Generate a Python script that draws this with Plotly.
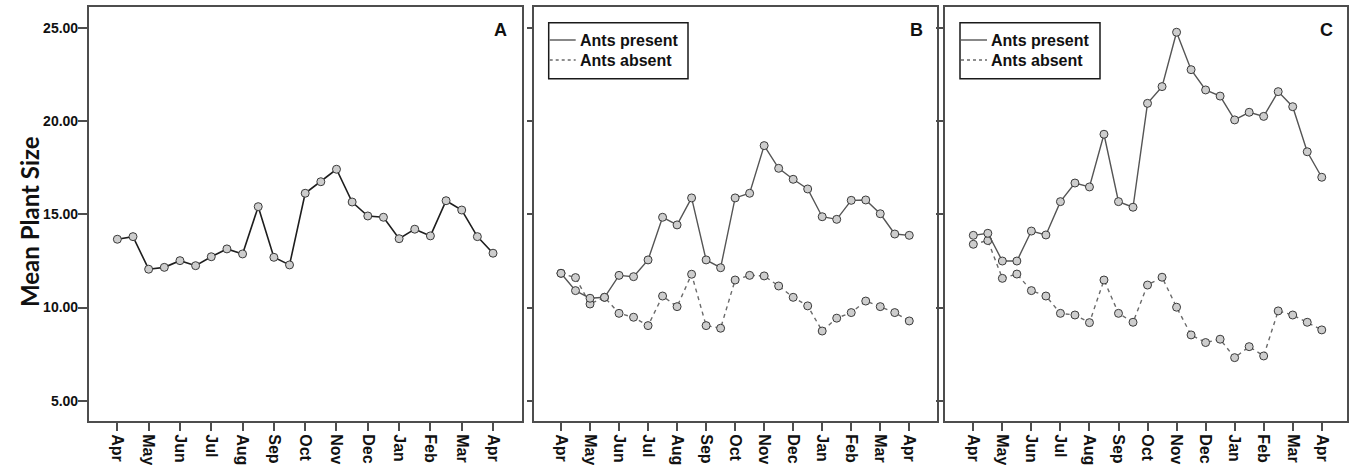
import plotly.graph_objects as go

W, H = 1350, 465

# ---------------- data ----------------
months = ["Apr", "May", "Jun", "Jul", "Aug", "Sep", "Oct", "Nov", "Dec", "Jan", "Feb", "Mar", "Apr"]
# 25 sampling occasions (twice a month), labelled every second one
samples = list(range(25))

a_mean = [13.67, 13.81, 12.06, 12.16, 12.52, 12.25, 12.73, 13.15, 12.88, 15.42, 12.70, 12.29, 16.14,
          16.76, 17.43, 15.67, 14.92, 14.85, 13.70, 14.21, 13.85, 15.74, 15.24, 13.81, 12.92]

b_present = [11.84, 10.91, 10.50, 10.55, 11.73, 11.66, 12.56, 14.85, 14.44, 15.89, 12.56, 12.14, 15.89,
             16.14, 18.70, 17.48, 16.89, 16.37, 14.88, 14.74, 15.76, 15.78, 15.04, 13.95, 13.88]
b_absent = [11.84, 11.61, 10.19, 10.55, 9.69, 9.48, 9.03, 10.62, 10.05, 11.79, 9.03, 8.89, 11.48,
            11.73, 11.70, 11.16, 10.55, 10.09, 8.74, 9.43, 9.73, 10.35, 10.05, 9.73, 9.28]

c_present = [13.88, 13.99, 12.50, 12.50, 14.11, 13.90, 15.69, 16.69, 16.48, 19.31, 15.69, 15.39, 20.97,
             21.87, 24.79, 22.78, 21.69, 21.36, 20.08, 20.49, 20.27, 21.60, 20.79, 18.37, 17.00]
c_absent = [13.40, 13.60, 11.57, 11.80, 10.91, 10.62, 9.69, 9.60, 9.19, 11.48, 9.69, 9.21, 11.21,
            11.63, 10.02, 8.53, 8.12, 8.30, 7.31, 7.90, 7.40, 9.82, 9.60, 9.21, 8.80]

y_ticks = [5, 10, 15, 20, 25]
y_tick_text = ["5.00", "10.00", "15.00", "20.00", "25.00"]
panel_labels = ["A", "B", "C"]
legend_names = ["Ants present", "Ants absent"]

# ---------------- layout geometry (pixels) ----------------
def px(x):
    return x / W

def py(y):
    return 1 - y / H

panels = [(88.7, 522.3), (534.0, 936.7), (945.3, 1347.3)]
xranges = [[-1.83, 25.87], [-1.86, 25.89], [-1.93, 25.76]]
ytop, ybot = 7.3, 421.3
yrange = [3.89, 26.13]
ticklens_y = [9, 5, 8]

FONT = "Arial, 'Liberation Sans', sans-serif"
frame_col = "#4d4d4d"
present_col = "#555555"
absent_col = "#6a6a6a"
marker_style = dict(symbol="circle", size=8, color="#cdcdcd", line=dict(color="#3a3a3a", width=1))

fig = go.Figure()

# Panel A
fig.add_trace(go.Scatter(x=samples, y=a_mean, mode="lines+markers", xaxis="x", yaxis="y",
                         line=dict(color="#1e1e1e", width=1.6), marker=marker_style, showlegend=False))

# Panels B and C
for i, (pres, absn) in enumerate([(b_present, b_absent), (c_present, c_absent)]):
    ax = str(i + 2)
    fig.add_trace(go.Scatter(x=samples, y=absn, mode="lines+markers", xaxis="x" + ax, yaxis="y" + ax,
                             name=legend_names[1],
                             line=dict(color=absent_col, width=1.4, dash="4px,4px"), marker=marker_style,
                             showlegend=False))
    fig.add_trace(go.Scatter(x=samples, y=pres, mode="lines+markers", xaxis="x" + ax, yaxis="y" + ax,
                             name=legend_names[0],
                             line=dict(color=present_col, width=1.4), marker=marker_style, showlegend=False))

layout = dict(
    width=W, height=H,
    margin=dict(l=0, r=0, t=0, b=0),
    paper_bgcolor="white", plot_bgcolor="white",
    font=dict(family=FONT, color="#111111"),
    showlegend=False,
)

for i, ((x0, x1), xr) in enumerate(zip(panels, xranges)):
    sfx = "" if i == 0 else str(i + 1)
    layout["xaxis" + sfx] = dict(
        domain=[px(x0), px(x1)], range=xr, anchor="y" + sfx,
        tickmode="array", tickvals=samples[::2], ticktext=months,
        tickangle=90, ticks="outside", ticklen=8, tickwidth=1.5, tickcolor=frame_col,
        tickfont=dict(family=FONT, size=16, color="#111111", weight="bold"),
        showline=True, linecolor=frame_col, linewidth=1.5, mirror=True,
        showgrid=False, zeroline=False, fixedrange=True,
    )
    layout["yaxis" + sfx] = dict(
        domain=[py(ybot), py(ytop)], range=yrange, anchor="x" + sfx,
        tickmode="array", tickvals=y_ticks, ticktext=y_tick_text,
        showticklabels=(i == 0), ticklabelstandoff=-3,
        ticks="outside", ticklen=ticklens_y[i], tickwidth=1.5, tickcolor=frame_col,
        tickfont=dict(family=FONT, size=14, color="#111111", weight="bold"),
        showline=True, linecolor=frame_col, linewidth=1.5, mirror=True,
        showgrid=False, zeroline=False, fixedrange=True,
    )

# ---------------- legends (boxes with line samples) for B and C ----------------
shapes = []
annotations = []
row_y = [40.0, 60.0]
styles = [dict(color=present_col, width=1.4), dict(color=absent_col, width=1.4, dash="3px,3px")]
for bx0, bx1 in [(548.7, 688.0), (960.0, 1100.0)]:
    shapes.append(dict(type="rect", xref="paper", yref="paper",
                       x0=px(bx0), x1=px(bx1), y0=py(78.7), y1=py(22.7),
                       line=dict(color="#1a1a1a", width=1.5), fillcolor="white", layer="above"))
    for name, ry, st in zip(legend_names, row_y, styles):
        shapes.append(dict(type="line", xref="paper", yref="paper",
                           x0=px(bx0 + 1), x1=px(bx0 + 27), y0=py(ry), y1=py(ry),
                           line=st, layer="above"))
        annotations.append(dict(text=name, x=px(bx0 + 29), y=py(ry), xref="paper", yref="paper",
                                showarrow=False, xanchor="left", yanchor="middle",
                                font=dict(family=FONT, size=16, color="#111111", weight="bold")))

for lab, xc in zip(panel_labels, [500.0, 916.7, 1326.7]):
    annotations.append(dict(text=lab, x=px(xc), y=py(30), xref="paper", yref="paper",
                            showarrow=False, xanchor="center", yanchor="middle",
                            font=dict(family=FONT, size=18, color="#111111", weight="bold")))
annotations.append(dict(text="Mean Plant Size", x=px(29), y=py(222), xref="paper", yref="paper",
                        showarrow=False, textangle=-90, xanchor="center", yanchor="middle",
                        font=dict(family="Lato, 'Open Sans', sans-serif", size=24, color="#111111",
                                  weight="bold")))
layout["annotations"] = annotations
layout["shapes"] = shapes

fig.update_layout(**layout)
fig.write_html("out.html")
